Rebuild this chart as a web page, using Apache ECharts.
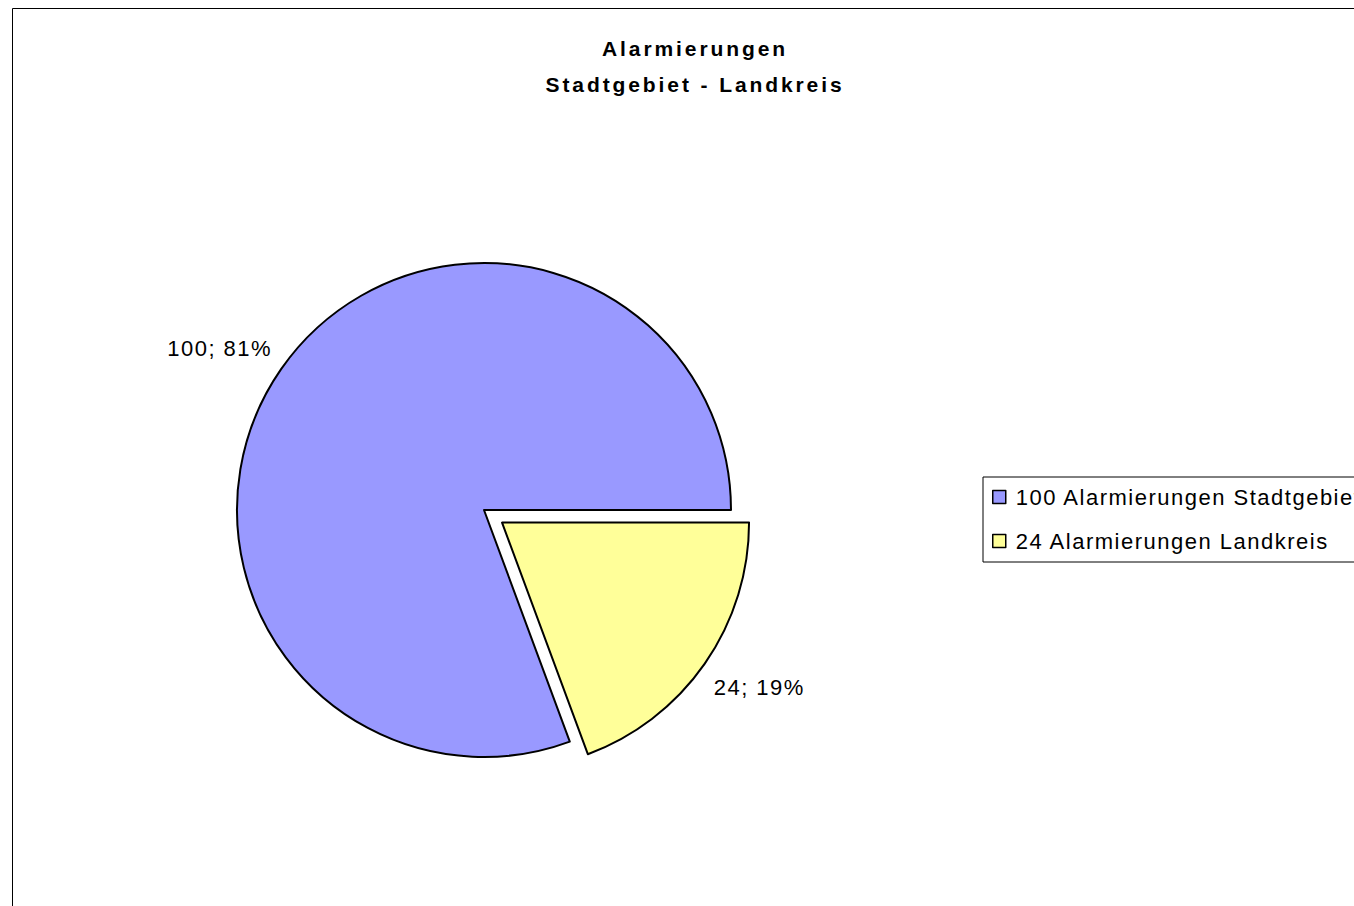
<!DOCTYPE html>
<html>
<head>
<meta charset="utf-8">
<title>Alarmierungen Stadtgebiet - Landkreis</title>
<script src="https://cdn.jsdelivr.net/npm/echarts@6/dist/echarts.min.js"></script>
<style>
  html, body { margin: 0; padding: 0; background: #fff; }
  #chart { width: 1354px; height: 906px; }
  /* the original was rendered with wide letter spacing */
  #chart text { letter-spacing: 1.5px; }
  #chart text[style*="bold"] { letter-spacing: 2.9px; }
</style>
</head>
<body>
<div id="chart"></div>
<script>
const categories = ['Alarmierungen Stadtgebiet', 'Alarmierungen Landkreis']
const values = [100, 24]
const colors = ['#9999ff', '#ffff99']
const exploded = [false, true]

const total = values.reduce((a, b) => a + b, 0)
const fontFamily = '"Liberation Sans", Arial, sans-serif'

const chart = echarts.init(document.getElementById('chart'), null, { renderer: 'svg' })

const option = {
  backgroundColor: '#fff',
  animation: false,
  title: {
    text: 'Alarmierungen\nStadtgebiet - Landkreis',
    left: 695,
    top: 30,
    textAlign: 'center',
    padding: 0,
    textStyle: {
      fontFamily: fontFamily,
      fontSize: 21,
      fontWeight: 'bold',
      color: '#000',
      lineHeight: 36
    }
  },
  legend: {
    orient: 'vertical',
    left: 983,
    top: 477,
    padding: [8, 80, 9, 9],
    itemGap: 20,
    itemWidth: 13,
    itemHeight: 13,
    borderColor: '#000',
    borderWidth: 1,
    selectedMode: false,
    data: categories,
    icon: 'rect',
    itemStyle: { borderColor: '#000', borderWidth: 1.5 },
    formatter: name => values[categories.indexOf(name)] + ' ' + name,
    textStyle: {
      fontFamily: fontFamily,
      fontSize: 22,
      color: '#000',
      lineHeight: 24,
      padding: [0, 0, 0, 5]
    }
  },
  graphic: [
    {
      type: 'rect',
      silent: true,
      shape: { x: 12.5, y: 8.5, width: 1400, height: 1000 },
      style: { fill: 'none', stroke: '#000', lineWidth: 1 }
    }
  ],
  series: [
    {
      type: 'pie',
      center: [484, 510],
      radius: 247,
      startAngle: 360 * values[0] / total,
      clockwise: true,
      avoidLabelOverlap: false,
      percentPrecision: 0,
      selectedMode: 'multiple',
      selectedOffset: 22,
      emphasis: { disabled: true },
      itemStyle: { borderColor: '#000', borderWidth: 2 },
      label: {
        show: true,
        position: 'outside',
        formatter: '{c}; {d}%',
        fontFamily: fontFamily,
        fontSize: 22,
        color: '#000'
      },
      labelLine: {
        show: true,
        length: 16,
        length2: 0,
        lineStyle: { width: 0, opacity: 0 }
      },
      // put the label corner next to the end of the (hidden) radial line
      labelLayout: p => {
        const pts = p.labelLinePoints
        if (!pts) return {}
        const left = pts[1][0] < pts[0][0]
        const up = pts[1][1] < pts[0][1]
        return {
          x: pts[1][0] + (left ? 4 : -8),
          y: pts[1][1] + (up ? 0 : 4),
          align: left ? 'right' : 'left',
          verticalAlign: up ? 'bottom' : 'top'
        }
      },
      data: categories.map((name, i) => ({
        name: name,
        value: values[i],
        selected: exploded[i],
        itemStyle: { color: colors[i] },
        // the exploded slice keeps the pie's own label place (select state),
        // so steer it through its hidden label line instead
        labelLine: exploded[i] ? { length: 23, length2: -15 } : {}
      }))
    }
  ]
}

chart.setOption(option)
</script>
</body>
</html>
